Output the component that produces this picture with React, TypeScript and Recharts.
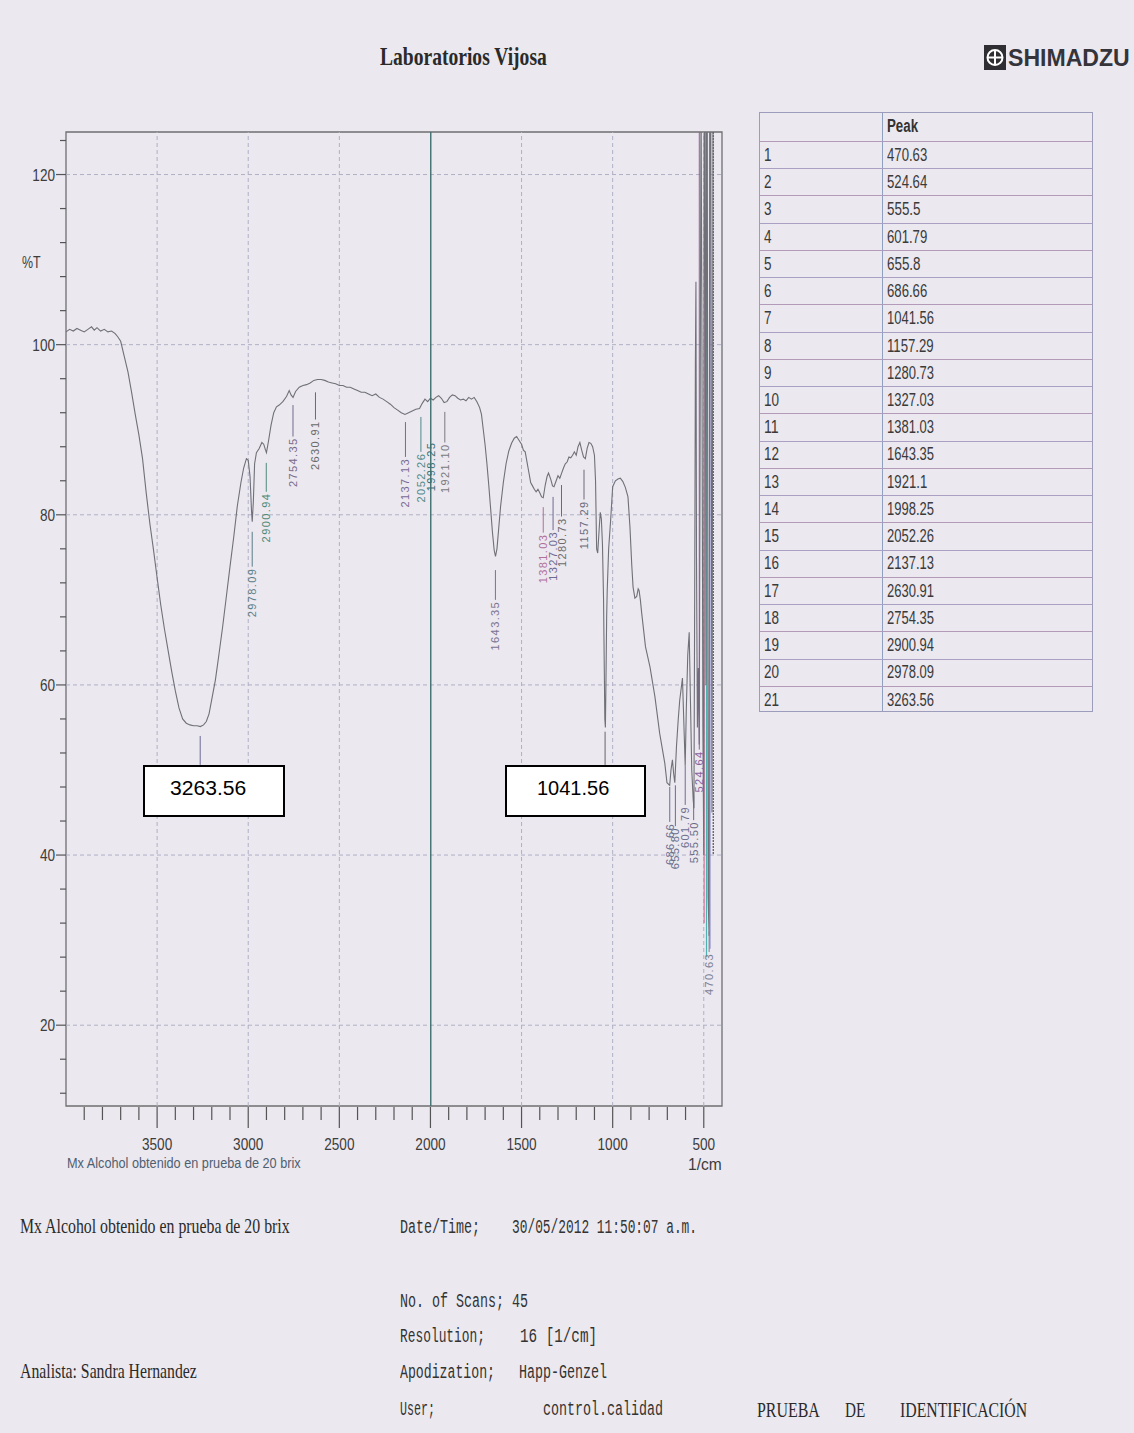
import React, { useLayoutEffect, useRef, useState } from 'react';
import { ComposedChart, Line, XAxis, YAxis, ReferenceLine, ReferenceArea, Scatter } from 'recharts';

// ---------- spectrum (wavenumber 1/cm, %T) ----------
const wavenumbers = [
  4000, 3980, 3960, 3940, 3920, 3900, 3880, 3860, 3845, 3830, 3810, 3790, 3770, 3750, 3730, 3715,
  3700, 3680, 3660, 3640, 3620, 3600, 3580, 3560, 3540, 3520, 3500, 3480, 3460, 3440, 3420, 3400,
  3380, 3360, 3340, 3320, 3300, 3280, 3263, 3245, 3230, 3215, 3200, 3180, 3160, 3140, 3120, 3100,
  3080, 3060, 3040, 3025, 3010, 3000, 2990, 2982, 2978, 2972, 2965, 2955, 2940, 2925, 2915, 2905,
  2900, 2890, 2875, 2860, 2845, 2830, 2810, 2790, 2775, 2765, 2754, 2740, 2720, 2700, 2680, 2660,
  2640, 2620, 2600, 2580, 2560, 2540, 2520, 2500, 2480, 2460, 2440, 2420, 2400, 2380, 2360, 2340,
  2320, 2300, 2280, 2260, 2240, 2220, 2200, 2180, 2160, 2140, 2120, 2100, 2080, 2060, 2045, 2030,
  2015, 2000, 1985, 1970, 1955, 1940, 1925, 1910, 1895, 1880, 1865, 1850, 1835, 1820, 1805, 1790,
  1775, 1760, 1745, 1730, 1720, 1710, 1700, 1690, 1680, 1670, 1660, 1650, 1643, 1635, 1625, 1615,
  1600, 1585, 1570, 1555, 1540, 1527, 1515, 1500, 1490, 1480, 1470, 1460, 1450, 1440, 1430, 1420,
  1410, 1400, 1390, 1381, 1370, 1360, 1352, 1340, 1330, 1322, 1310, 1300, 1290, 1280, 1270, 1260,
  1250, 1240, 1230, 1220, 1210, 1200, 1190, 1180, 1170, 1160, 1150, 1140, 1130, 1120, 1110, 1100,
  1094, 1088, 1082, 1075, 1068, 1062, 1056, 1050, 1046, 1043, 1040, 1037, 1033, 1030, 1022, 1011,
  1000, 985, 971, 958, 944, 930, 916, 905, 895, 888, 878, 868, 860, 855, 848, 841,
  820, 795, 768, 742, 714, 702, 687, 680, 672, 665, 659, 650, 640, 632, 617, 610,
  602, 596, 588, 580, 573, 566, 558, 554, 550, 546, 543, 540, 535, 530, 525, 520,
  515, 510, 505, 500, 497, 493, 488, 485, 481, 476, 471, 467, 462, 455, 449, 440,
  420, 400,
];
const transmittance = [
  101.5, 101.8, 101.6, 101.9, 101.7, 101.5, 101.8, 102.1, 101.7, 102.0, 101.6, 101.8, 101.5, 101.6, 101.3, 100.9,
  100.4, 98.6, 96.8, 94.4, 91.8, 89.4, 86.6, 82.6, 79.0, 75.9, 72.6, 69.4, 66.6, 64.1, 61.6, 59.3,
  57.3, 56.0, 55.5, 55.3, 55.2, 55.2, 55.1, 55.3, 55.7, 56.6, 58.3, 60.6, 63.7, 66.9, 70.4, 73.9,
  77.3, 81.0, 83.8, 85.5, 86.6, 86.4, 84.5, 80.5, 79.2, 81.5, 86.0, 87.3, 87.8, 88.5, 88.3, 87.6,
  87.3, 88.5, 90.5, 92.0, 92.7, 92.9, 93.3, 93.9, 94.6, 94.1, 93.8, 94.5, 95.0, 95.2, 95.3, 95.5,
  95.8, 95.9, 95.9, 95.8, 95.6, 95.5, 95.4, 95.2, 95.2, 95.0, 95.0, 94.8, 94.6, 94.4, 94.4, 94.2,
  94.0, 94.2, 93.8, 93.6, 93.3, 93.0, 92.6, 92.3, 92.0, 91.8, 92.0, 92.2, 92.4, 92.5, 93.1, 93.6,
  93.3, 93.7, 93.5, 93.8, 94.0, 93.7, 93.2, 93.3, 93.8, 94.1, 94.0, 93.7, 93.5, 93.6, 93.4, 93.8,
  93.6, 93.8, 93.3, 92.6, 91.8, 90.0, 88.2, 86.0, 83.5, 80.8, 78.0, 75.8, 75.1, 76.0, 78.5, 81.0,
  83.8, 86.0, 87.5, 88.4, 89.0, 89.2, 88.8, 88.3, 87.6, 87.4, 86.2, 85.0, 83.8, 83.4, 83.0, 82.7,
  83.0, 82.6, 82.1, 82.0, 83.5, 84.5, 84.9, 84.2, 83.4, 83.3, 84.0, 84.6, 84.3, 84.9, 85.5, 86.0,
  86.2, 86.8, 86.7, 87.0, 87.4, 87.0, 88.0, 88.5, 87.6, 86.8, 86.6, 87.8, 88.5, 88.4, 88.0, 87.0,
  84.0, 76.0, 75.5, 78.0, 80.3, 79.5, 76.5, 70.0, 62.0, 56.0, 55.0, 60.0, 68.0, 71.0, 76.0, 79.4,
  83.3, 84.0, 84.2, 84.3, 83.9, 83.2, 82.1, 78.5, 74.0, 71.5, 70.2, 70.4, 71.3, 71.1, 70.0, 68.5,
  64.5, 62.1, 58.6, 54.3, 50.8, 48.5, 48.2, 50.0, 51.2, 49.5, 48.5, 52.7, 56.0, 58.2, 60.8, 56.0,
  50.5, 57.0, 63.5, 66.2, 58.0, 50.0, 46.5, 45.5, 70.0, 98.0, 107.4, 75.0, 55.0, 62.0, 53.0, 90.0,
  130, 100, 55, 40, 130, 130, 60, 130, 130, 35, 30.5, 130, 130, 45, 130, 130,
  130, 130,
];

// ---------- peaks ----------
const peakWavenumbers = [470.63, 524.64, 555.5, 601.79, 655.8, 686.66, 1041.56, 1157.29, 1280.73, 1327.03, 1381.03, 1643.35, 1921.1, 1998.25, 2052.26, 2137.13, 2630.91, 2754.35, 2900.94, 2978.09, 3263.56];
const peakLineTop = [31.0, 125, 47.0, 50.5, 48.2, 48.0, 54.5, 85.3, 83.5, 82.1, 80.9, 73.5, 92.1, 125, 91.5, 90.9, 94.4, 92.9, 86.1, 78.0, 54.0];
const peakLineBottom = [28.6, 52.4, 44.1, 45.9, 43.4, 43.9, 50.6, 81.8, 79.8, 78.2, 77.9, 70.0, 88.5, 10.5, 87.4, 86.8, 91.2, 89.2, 82.7, 73.9, 50.6];
const peakLabelAt = [28.6, 52.4, 44.1, 45.9, 43.4, 43.9, 50.6, 81.8, 79.8, 78.2, 77.9, 70.0, 88.5, 88.7, 87.4, 86.8, 91.2, 89.2, 82.7, 73.9, 50.6];
const peakColors = ['#7b7f95', '#8a5f9a', '#6b6b86', '#6f6f90', '#667089', '#6b6f8f', '#666666', '#6a6a7a', '#6c6c6c', '#6e6a92', '#b0709a', '#7a7390', '#7a7a80', '#3d6e6e', '#4f8a8a', '#7a6a96', '#6a6a6a', '#786a8a', '#4f8a78', '#5a7f8a', '#6a6a9a'];

// off-scale spikes in the low-wavenumber region
const offscaleWavenumbers = [498, 485, 466, 448];
const offscaleBottom = [32, 28, 29, 40];
const offscaleColors = ['#d07aa0', '#4fb0b0', '#8f8fd0', '#555555'];

const xTicks = [3900, 3800, 3700, 3600, 3500, 3400, 3300, 3200, 3100, 3000, 2900, 2800, 2700, 2600, 2500, 2400, 2300, 2200, 2100, 2000, 1900, 1800, 1700, 1600, 1500, 1400, 1300, 1200, 1100, 1000, 900, 800, 700, 600, 500];
const yTicks = [12, 16, 20, 24, 28, 32, 36, 40, 44, 48, 52, 56, 60, 64, 68, 72, 76, 80, 84, 88, 92, 96, 100, 104, 108, 112, 116, 120, 124];
const gridX = [3500, 3000, 2500, 1500, 1000, 500];
const gridY = [20, 40, 60, 80, 100, 120];

const spectrumData = wavenumbers.map((wn, i) => ({ wn, t: transmittance[i] }));
const labelData = peakWavenumbers.map((wn, i) => ({ wn, t: peakLabelAt[i], label: wn.toFixed(2), color: peakColors[i] }));

const SANS = "'Liberation Sans', Arial, sans-serif";
const SERIF = "'Liberation Serif', 'Times New Roman', serif";
const MONO = "'Liberation Mono', 'DejaVu Sans Mono', monospace";

function Fit({ x, y, w, size, family, weight, color, children }: any) {
  const ref = useRef<HTMLSpanElement>(null);
  const [s, setS] = useState(1);
  useLayoutEffect(() => {
    if (ref.current) {
      const nat = ref.current.offsetWidth;
      if (nat > 0) setS(w / nat);
    }
  }, [w, children]);
  return (
    <span
      ref={ref}
      style={{
        position: 'absolute', left: x, top: y - size * 0.6, fontSize: size, fontFamily: family,
        fontWeight: weight || 'normal', color: color || '#333', whiteSpace: 'pre', lineHeight: `${size * 1.2}px`,
        transform: `scaleX(${s})`, transformOrigin: 'left center',
      }}
    >
      {children}
    </span>
  );
}

const XTick = (props: any) => {
  const { x, y, payload } = props;
  const v = payload.value;
  const major = v % 500 === 0;
  return (
    <g>
      <line x1={x} x2={x} y1={y + 1} y2={y + (major ? 22 : 14)} stroke="#555" strokeWidth={1.2} />
      {major && (
        <text transform={`translate(${x},${y + 44}) scale(0.8,1)`} textAnchor="middle" fontSize={17} fill="#3c3c3c" fontFamily={SANS}>
          {v}
        </text>
      )}
    </g>
  );
};

const YTick = (props: any) => {
  const { x, y, payload } = props;
  const v = payload.value;
  const major = v % 20 === 0;
  return (
    <g>
      <line x1={x} x2={x - (major ? 10 : 6)} y1={y} y2={y} stroke="#555" strokeWidth={1.2} />
      {major && (
        <text transform={`translate(${x - 11},${y + 6}) scale(0.8,1)`} textAnchor="end" fontSize={17} fill="#3c3c3c" fontFamily={SANS}>
          {v}
        </text>
      )}
    </g>
  );
};

const PeakLabel = (props: any) => {
  const { cx, cy, payload } = props;
  if (cx == null || cy == null) return <g />;
  return (
    <text
      transform={`translate(${cx + 4},${cy + 1}) rotate(-90)`}
      textAnchor="end"
      fontSize={11}
      letterSpacing={1.4}
      fill={payload.color}
      fontFamily={SANS}
    >
      {payload.label}
    </text>
  );
};

const Logo = () => (
  <svg width={22} height={25} style={{ position: 'absolute', left: 984, top: 45 }}>
    <rect x={0} y={0} width={22} height={25} fill="#2e2e33" />
    <circle cx={11} cy={12.5} r={7.5} fill="none" stroke="#fff" strokeWidth={2} />
    <line x1={11} x2={11} y1={5} y2={20} stroke="#fff" strokeWidth={2} />
    <line x1={3.5} x2={18.5} y1={12.5} y2={12.5} stroke="#fff" strokeWidth={2} />
  </svg>
);

export default function App() {
  const rowH = 27.24;
  return (
    <div style={{ position: 'absolute', left: 0, top: 0, width: 1134, height: 1433, background: '#ebe8ef', overflow: 'hidden' }}>
      {/* header */}
      <Fit x={380} y={57} w={167} size={26} family={SERIF} weight="bold" color="#2a2a2a">Laboratorios Vijosa</Fit>
      <Logo />
      <Fit x={1008} y={58} w={122} size={24} family={SANS} weight="bold" color="#34343a">SHIMADZU</Fit>

      {/* chart */}
      <div style={{ position: 'absolute', left: 0, top: 0 }}>
        <ComposedChart width={740} height={1180} data={spectrumData} margin={{ top: 132, right: 18, bottom: 14, left: 0 }}>
          <XAxis
            dataKey="wn" type="number" domain={[400, 4000]} reversed allowDataOverflow
            ticks={xTicks} interval={0} axisLine={false} tickLine={false} tickSize={0} tickMargin={0}
            tick={<XTick />} height={60}
          />
          <YAxis
            type="number" domain={[10.5, 125]} allowDataOverflow ticks={yTicks} interval={0}
            axisLine={false} tickLine={false} tickSize={0} tickMargin={0} width={66} tick={<YTick />}
          />
          {gridX.map((v) => (
            <ReferenceLine key={`gx${v}`} x={v} stroke="#b0b0c6" strokeDasharray="4 3" strokeWidth={1} />
          ))}
          {gridY.map((v) => (
            <ReferenceLine key={`gy${v}`} y={v} stroke="#b0b0c6" strokeDasharray="4 3" strokeWidth={1} />
          ))}
          <ReferenceArea x1={400} x2={4000} y1={10.5} y2={125} fill="none" stroke="#6f6f72" strokeWidth={1.3} fillOpacity={0} />
          {offscaleWavenumbers.map((wn, i) => (
            <ReferenceLine
              key={`os${wn}`}
              segment={[{ x: wn, y: 125 }, { x: wn, y: offscaleBottom[i] }]}
              stroke={offscaleColors[i]}
              strokeWidth={1.2}
              strokeDasharray={i === 3 ? '2 1' : undefined}
            />
          ))}
          <Line dataKey="t" type="linear" stroke="#707078" strokeWidth={1.1} dot={false} isAnimationActive={false} />
          {peakWavenumbers.map((wn, i) => (
            <ReferenceLine
              key={`pk${wn}`}
              segment={[{ x: wn, y: peakLineTop[i] }, { x: wn, y: peakLineBottom[i] }]}
              stroke={peakColors[i]}
              strokeWidth={wn === 1998.25 ? 1.4 : 1}
            />
          ))}
          <Scatter data={labelData} dataKey="t" shape={<PeakLabel />} isAnimationActive={false} />
        </ComposedChart>
      </div>

      {/* axis captions */}
      <Fit x={22} y={263} w={19} size={17} family={SANS} color="#3c3c3c">%T</Fit>
      <Fit x={67} y={1163} w={234} size={14} family={SANS} color="#4f5f70">Mx Alcohol obtenido en prueba de 20 brix</Fit>
      <Fit x={688} y={1165} w={34} size={16} family={SANS} color="#3c3c3c">1/cm</Fit>

      {/* annotation boxes */}
      <div style={{ position: 'absolute', left: 143, top: 765, width: 142, height: 52, boxSizing: 'border-box', border: '2px solid #000', background: '#fff' }} />
      <Fit x={170} y={788} w={76} size={20} family={SANS} color="#000">3263.56</Fit>
      <div style={{ position: 'absolute', left: 505, top: 765, width: 141, height: 52, boxSizing: 'border-box', border: '2px solid #000', background: '#fff' }} />
      <Fit x={537} y={788} w={72} size={20} family={SANS} color="#000">1041.56</Fit>

      {/* peak table */}
      <div style={{ position: 'absolute', left: 759, top: 112, width: 334, height: 600, boxSizing: 'border-box', border: '1px solid #9c9cbc' }}>
        <div style={{ position: 'absolute', left: 122, top: 0, width: 1, height: 598, background: '#8f9fc0' }} />
        <Fit x={127} y={14} w={31} size={18} family={SANS} weight="bold" color="#333">Peak</Fit>
        {peakWavenumbers.map((wn, i) => {
          const top = 28 + i * rowH;
          const txt = String(wn);
          return (
            <React.Fragment key={`row${i}`}>
              <div style={{ position: 'absolute', left: 0, top, width: 332, height: 1, background: i % 2 ? '#a9a0c4' : '#b39ab8' }} />
              <Fit x={4} y={top + rowH / 2 + 1} w={String(i + 1).length * 7.5} size={18} family={SANS} color="#3a3a3a">{String(i + 1)}</Fit>
              <Fit x={127} y={top + rowH / 2 + 1} w={txt.length * 6.7} size={18} family={SANS} color="#3a3a3a">{txt}</Fit>
            </React.Fragment>
          );
        })}
      </div>

      {/* footer */}
      <Fit x={20} y={1226} w={270} size={22} family={SERIF} color="#2a2a2a">Mx Alcohol obtenido en prueba de 20 brix</Fit>
      <Fit x={20} y={1371} w={177} size={22} family={SERIF} color="#2a2a2a">Analista: Sandra Hernandez</Fit>

      <Fit x={400} y={1228} w={80} size={20} family={MONO} color="#333">Date/Time;</Fit>
      <Fit x={512} y={1228} w={185} size={20} family={MONO} color="#333">30/05/2012 11:50:07 a.m.</Fit>
      <Fit x={400} y={1302} w={128} size={20} family={MONO} color="#333">No. of Scans; 45</Fit>
      <Fit x={400} y={1337} w={85} size={20} family={MONO} color="#333">Resolution;</Fit>
      <Fit x={520} y={1337} w={77} size={20} family={MONO} color="#333">16 [1/cm]</Fit>
      <Fit x={400} y={1373} w={95} size={20} family={MONO} color="#333">Apodization;</Fit>
      <Fit x={519} y={1373} w={88} size={20} family={MONO} color="#333">Happ-Genzel</Fit>
      <Fit x={400} y={1410} w={35} size={20} family={MONO} color="#333">User;</Fit>
      <Fit x={543} y={1410} w={120} size={20} family={MONO} color="#333">control.calidad</Fit>

      <Fit x={757} y={1410} w={63} size={22} family={SERIF} color="#2a2a2a">PRUEBA</Fit>
      <Fit x={845} y={1410} w={20} size={22} family={SERIF} color="#2a2a2a">DE</Fit>
      <Fit x={900} y={1410} w={127} size={22} family={SERIF} color="#2a2a2a">IDENTIFICACIÓN</Fit>
    </div>
  );
}
